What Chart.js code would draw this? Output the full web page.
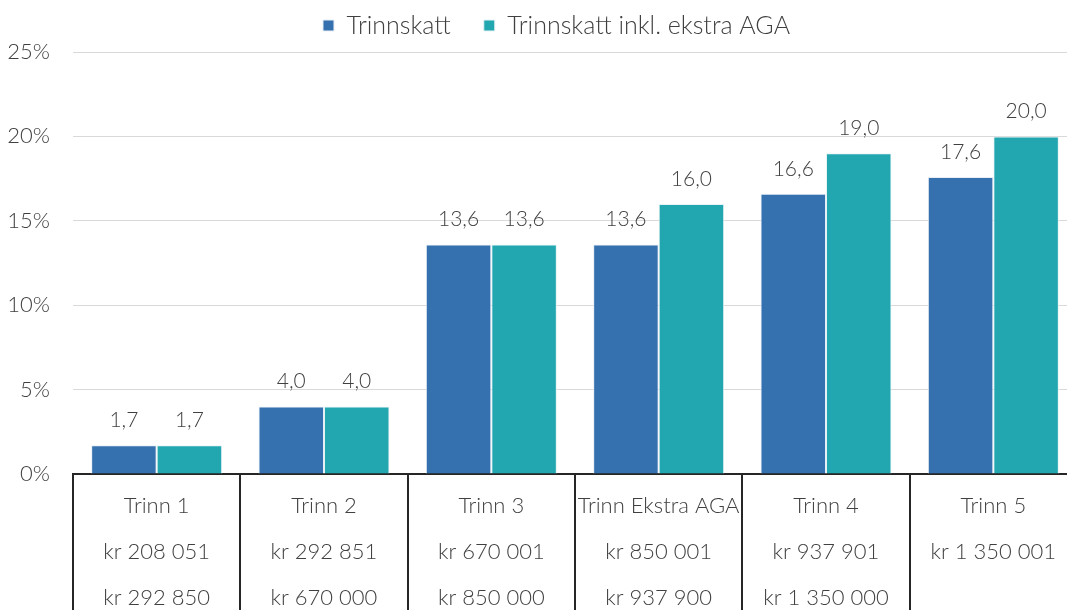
<!DOCTYPE html>
<html>
<head>
<meta charset="utf-8">
<script src="https://cdn.jsdelivr.net/npm/chart.js@4.4.1/dist/chart.umd.min.js"></script>
<style>
  html, body { margin: 0; padding: 0; background: #fff; overflow: hidden; }
  #wrap { width: 1067px; height: 610px; overflow: hidden; position: relative; }
  #box { position: absolute; left: 0; top: 0; width: 1077px; height: 630px; }
</style>
</head>
<body>
<div id="wrap"><div id="box"><canvas id="c"></canvas></div></div>
<script>
const categories = [
  ["Trinn 1", "kr 208 051", "kr 292 850"],
  ["Trinn 2", "kr 292 851", "kr 670 000"],
  ["Trinn 3", "kr 670 001", "kr 850 000"],
  ["Trinn Ekstra AGA", "kr 850 001", "kr 937 900"],
  ["Trinn 4", "kr 937 901", "kr 1 350 000"],
  ["Trinn 5", "kr 1 350 001"]
];
const seriesNames = ["Trinnskatt", "Trinnskatt inkl. ekstra AGA"];
const trinnskatt = [1.7, 4.0, 13.6, 13.6, 16.6, 17.6];
const trinnskattAga = [1.7, 4.0, 13.6, 16.0, 19.0, 20.0];
const yTicks = [0, 5, 10, 15, 20, 25];

const FONT = "Lato, 'Open Sans', sans-serif";
const TEXT = '#404040';
const LINE = '#262626';

const legendFit = {
  id: 'legendFit',
  afterInit(chart) {
    const lg = chart.legend;
    if (!lg || lg._wrapped) return;
    const orig = lg.fit;
    lg.fit = function () { orig.call(this); this.height = 72; };
    lg._wrapped = true;
  },
  afterLayout(chart) {
    const lg = chart.legend;
    if (lg) { lg.left += 18; lg.right += 18; }
  }
};

const dataLabels = {
  id: 'dataLabels',
  afterDatasetsDraw(chart) {
    const ctx = chart.ctx;
    ctx.save();
    ctx.font = '300 21px ' + FONT;
    ctx.fillStyle = TEXT;
    ctx.textAlign = 'center';
    ctx.textBaseline = 'middle';
    chart.data.datasets.forEach((ds, di) => {
      const meta = chart.getDatasetMeta(di);
      meta.data.forEach((bar, i) => {
        const v = ds.data[i];
        ctx.fillText(v.toFixed(1).replace('.', ','), bar.x, bar.y - 25);
      });
    });
    ctx.restore();
  }
};

const separators = {
  id: 'separators',
  afterDraw(chart) {
    const xs = chart.scales.x;
    const n = chart.data.labels.length;
    const step = xs.width / n;
    const ctx = chart.ctx;
    ctx.save();
    ctx.strokeStyle = LINE;
    ctx.lineWidth = 2;
    for (let i = 0; i <= n; i++) {
      const x = Math.round(xs.getPixelForValue(0) - step / 2 + i * step);
      ctx.beginPath();
      ctx.moveTo(x, xs.top);
      ctx.lineTo(x, chart.height);
      ctx.stroke();
    }
    ctx.restore();
  }
};

new Chart(document.getElementById('c'), {
  type: 'bar',
  data: {
    labels: categories,
    datasets: [
      { label: seriesNames[0], data: trinnskatt, backgroundColor: '#3571AE', borderColor: '#e9eef5', borderWidth: 1 },
      { label: seriesNames[1], data: trinnskattAga, backgroundColor: '#22A6B0', borderColor: '#e6f4f5', borderWidth: 1 }
    ]
  },
  options: {
    responsive: true,
    maintainAspectRatio: false,
    animation: false,
    devicePixelRatio: 1,
    layout: { padding: { left: 0, right: 0, top: -20, bottom: 0 } },
    datasets: { bar: { categoryPercentage: 0.783, barPercentage: 1.0 } },
    plugins: {
      legend: {
        position: 'top',
        align: 'center',
        labels: {
          font: { family: FONT, size: 25, weight: '300' },
          color: TEXT,
          boxWidth: 11,
          boxHeight: 11,
          padding: 33
        }
      },
      tooltip: { enabled: false }
    },
    scales: {
      y: {
        min: 0, max: 25,
        afterBuildTicks(scale) { scale.ticks = yTicks.map(v => ({ value: v })); },
        afterFit(scale) { scale.width = 73; },
        ticks: {
          font: { family: FONT, size: 22, weight: '300' },
          color: TEXT,
          padding: 23,
          callback: v => v + '%'
        },
        grid: { color: '#d9d9d9', lineWidth: 1, drawTicks: false },
        border: { display: false }
      },
      x: {
        ticks: {
          font: { family: FONT, size: 22, weight: '300', lineHeight: 46 / 22 },
          color: TEXT,
          padding: 9,
          maxRotation: 0,
          autoSkip: false
        },
        grid: { drawOnChartArea: false, drawTicks: false },
        border: { display: true, color: LINE, width: 2 }
      }
    }
  },
  plugins: [legendFit, dataLabels, separators]
});
</script>
</body>
</html>
